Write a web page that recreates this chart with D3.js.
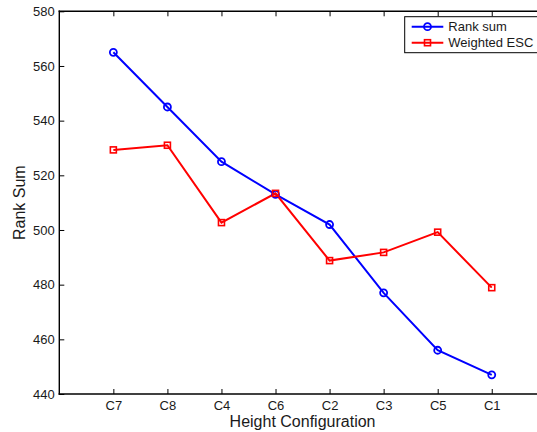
<!DOCTYPE html>
<html>
<head>
<meta charset="utf-8">
<script src="https://cdn.jsdelivr.net/npm/d3@7"></script>
<style>
  html, body { margin: 0; padding: 0; background: #fff; }
  svg { display: block; font-family: "Liberation Sans", Arial, Helvetica, sans-serif; }
</style>
</head>
<body>
<svg id="chart" width="537" height="432"></svg>
<script>
const categories = ["C7", "C8", "C4", "C6", "C2", "C3", "C5", "C1"];
const rankSum = [565, 545, 525, 513, 502, 477, 456, 447];
const weightedESC = [529.3, 531, 502.7, 513.4, 488.8, 491.8, 499.2, 478.9];
const yTicks = [440, 460, 480, 500, 520, 540, 560, 580];
const seriesNames = ["Rank sum", "Weighted ESC"];

const svg = d3.select("#chart");
const pLeft = 59.3, pRight = 545.8, pTop = 11.3, pBottom = 394;

const x = d3.scalePoint().domain(categories).range([pLeft, pRight]).padding(1);
const y = d3.scaleLinear().domain([440, 580]).range([pBottom, pTop]);

// axes
const gx = svg.append("g").attr("transform", `translate(0,${pBottom})`)
  .call(d3.axisBottom(x).tickSizeInner(-5).tickSizeOuter(0).tickPadding(7));
const gxTop = svg.append("g").attr("transform", `translate(0,${pTop})`)
  .call(d3.axisTop(x).tickSizeInner(-5).tickSizeOuter(0).tickFormat(""));
const gy = svg.append("g").attr("transform", `translate(${pLeft},0)`)
  .call(d3.axisLeft(y).tickValues(yTicks).tickSizeInner(-5).tickSizeOuter(0).tickPadding(4.5));
const gyR = svg.append("g").attr("transform", `translate(${pRight},0)`)
  .call(d3.axisRight(y).tickValues(yTicks).tickSizeInner(-5).tickSizeOuter(0).tickFormat(""));

[gx, gxTop, gy, gyR].forEach(g => {
  g.selectAll("path.domain").attr("stroke", "#000").attr("stroke-width", 1.4);
  g.selectAll(".tick line").attr("stroke", "#000").attr("stroke-width", 1);
  g.selectAll(".tick text").attr("fill", "#1a1a1a").style("font-size", "13px").attr("font-family", null);
});
gx.select("path.domain").attr("d", `M${pLeft - 0.7},0H${pRight}`);
gxTop.select("path.domain").attr("d", `M${pLeft - 0.7},0H${pRight}`);
gy.select("path.domain").attr("d", `M0,${pBottom - pTop + 0.7}V-0.7`).attr("transform", `translate(0,${pTop})`);

// axis labels
svg.append("text")
  .attr("x", (pLeft + pRight) / 2).attr("y", 427)
  .attr("text-anchor", "middle").style("font-size", "16px").attr("fill", "#1a1a1a")
  .text("Height Configuration");
svg.append("text")
  .attr("transform", `translate(25,${(pTop + pBottom) / 2}) rotate(-90)`)
  .attr("text-anchor", "middle").style("font-size", "16px").attr("fill", "#1a1a1a")
  .text("Rank Sum");

// lines
const line = d3.line().x((d, i) => x(categories[i])).y(d => y(d));
svg.append("path").datum(rankSum).attr("d", line)
  .attr("fill", "none").attr("stroke", "#0000ff").attr("stroke-width", 2);
svg.append("path").datum(weightedESC).attr("d", line)
  .attr("fill", "none").attr("stroke", "#ff0000").attr("stroke-width", 2);

// markers
svg.append("g").selectAll("circle").data(rankSum).join("circle")
  .attr("cx", (d, i) => x(categories[i])).attr("cy", d => y(d)).attr("r", 3.5)
  .attr("fill", "none").attr("stroke", "#0000ff").attr("stroke-width", 1.8);
svg.append("g").selectAll("rect").data(weightedESC).join("rect")
  .attr("x", (d, i) => x(categories[i]) - 3).attr("y", d => y(d) - 3)
  .attr("width", 6).attr("height", 6)
  .attr("fill", "none").attr("stroke", "#ff0000").attr("stroke-width", 1.6);

// legend
const lg = svg.append("g");
lg.append("rect").attr("x", 404.7).attr("y", 16.7).attr("width", 150).attr("height", 36)
  .attr("fill", "#fff").attr("stroke", "#000").attr("stroke-width", 1);
const rows = [
  { name: seriesNames[0], color: "#0000ff", yy: 26.7, marker: "circle" },
  { name: seriesNames[1], color: "#ff0000", yy: 42.7, marker: "square" }
];
rows.forEach(r => {
  lg.append("line").attr("x1", 411.7).attr("x2", 443.3).attr("y1", r.yy).attr("y2", r.yy)
    .attr("stroke", r.color).attr("stroke-width", 2);
  if (r.marker === "circle") {
    lg.append("circle").attr("cx", 427.5).attr("cy", r.yy).attr("r", 3.5)
      .attr("fill", "none").attr("stroke", r.color).attr("stroke-width", 1.8);
  } else {
    lg.append("rect").attr("x", 424.5).attr("y", r.yy - 3).attr("width", 6).attr("height", 6)
      .attr("fill", "none").attr("stroke", r.color).attr("stroke-width", 1.6);
  }
  lg.append("text").attr("x", 448.3).attr("y", r.yy).attr("dy", "0.36em")
    .style("font-size", "13px").attr("fill", "#1a1a1a").text(r.name);
});
</script>
</body>
</html>
